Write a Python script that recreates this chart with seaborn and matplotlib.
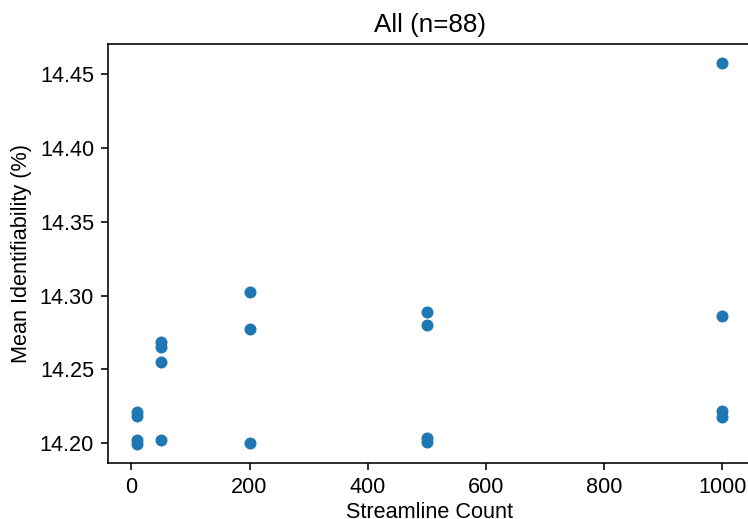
import matplotlib
matplotlib.use("Agg")
import matplotlib.pyplot as plt
import seaborn as sns
import pandas as pd

streamline_count = [10, 10, 10, 10,
                    50, 50, 50, 50,
                    200, 200, 200,
                    500, 500, 500, 500,
                    1000, 1000, 1000, 1000]
mean_identifiability = [14.2212, 14.2180, 14.2018, 14.1995,
                        14.2686, 14.2652, 14.2551, 14.2020,
                        14.3025, 14.2770, 14.1998,
                        14.2890, 14.2800, 14.2034, 14.2007,
                        14.4577, 14.2862, 14.2217, 14.2176]

df = pd.DataFrame({"Streamline Count": streamline_count,
                   "Mean Identifiability (%)": mean_identifiability})

plt.rcParams['font.family'] = ['Liberation Sans', 'DejaVu Sans']
plt.rcParams['font.size'] = 10.8
for k in ['text.color', 'axes.labelcolor', 'xtick.color', 'ytick.color', 'axes.edgecolor']:
    plt.rcParams[k] = 'black'

fig = plt.figure(figsize=(748/144, 519/144), dpi=144)
ax = fig.add_axes([0.1444, 0.1085, 1.0047 - 0.1444, 0.9152 - 0.1085])
sns.scatterplot(data=df, x="Streamline Count", y="Mean Identifiability (%)",
                ax=ax, color="#1f77b4", s=36, linewidth=0)
ax.set_title("All (n=88)", fontsize=13)
ax.set_xlabel("Streamline Count", fontsize=10.8, labelpad=2)
ax.set_ylabel("Mean Identifiability (%)", fontsize=10.8)
ax.tick_params(labelsize=10.8)
ax.set_yticks([14.20, 14.25, 14.30, 14.35, 14.40, 14.45])
ax.set_xticks([0, 200, 400, 600, 800, 1000])
fig.savefig("out.png", dpi=144)
